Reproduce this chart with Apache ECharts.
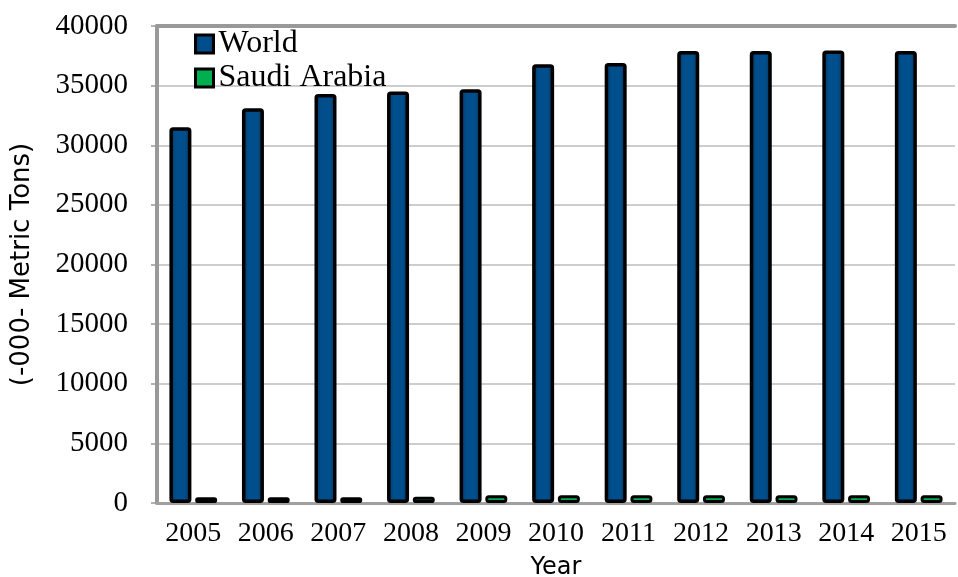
<!DOCTYPE html>
<html>
<head>
<meta charset="utf-8">
<script src="https://cdn.jsdelivr.net/npm/echarts@6/dist/echarts.min.js"></script>
<style>html,body{margin:0;padding:0;background:#fff}#c{width:958px;height:577px}</style>
</head>
<body>
<div id="c"></div>
<script>
var years = ['2005','2006','2007','2008','2009','2010','2011','2012','2013','2014','2015'];
var worldValues = [31500, 33100, 34300, 34500, 34700, 36800, 36900, 37900, 37900, 37950, 37900];
var saudiValues = [480, 480, 480, 520, 650, 650, 650, 650, 650, 650, 650];
var yTicks = [0, 5000, 10000, 15000, 20000, 25000, 30000, 35000, 40000];

var chart = echarts.init(document.getElementById('c'), null, {renderer: 'canvas'});
var serif = 'Liberation Serif';
var blueGrad = new echarts.graphic.LinearGradient(0, 0, 1, 0, [
  {offset: 0, color: '#0b2f55'},
  {offset: 0.3, color: '#004f8c'},
  {offset: 0.7, color: '#004f8c'},
  {offset: 1, color: '#0b2f55'}
]);
var option = {
  animation: false,
  backgroundColor: '#ffffff',
  grid: {left: 157, right: 3, top: 26, bottom: 74, containLabel: false, outerBoundsMode: 'none'},
  legend: {
    orient: 'vertical',
    left: 189,
    top: 23,
    icon: 'rect',
    itemWidth: 18,
    itemHeight: 18,
    itemGap: 2,
    itemStyle: {borderColor: '#000', borderWidth: 3},
    textStyle: {fontFamily: serif, fontSize: 32, lineHeight: 32, color: '#000', padding: [0, 0, 0, 0]},
    data: ['World', 'Saudi Arabia']
  },
  xAxis: [{
    type: 'category',
    data: years,
    position: 'bottom',
    axisLine: {show: true, lineStyle: {color: '#a0a0a0', width: 3}},
    axisTick: {show: false},
    axisLabel: {fontFamily: serif, fontSize: 28, color: '#000', margin: 17, interval: 0, hideOverlap: false},
    name: 'Year',
    nameLocation: 'middle',
    nameGap: 53,
    nameTextStyle: {fontFamily: 'DejaVu Sans', fontSize: 24, color: '#000'}
  }, {
    type: 'category',
    data: years,
    position: 'top',
    axisLine: {show: true, lineStyle: {color: '#999999', width: 4}},
    axisTick: {show: false},
    axisLabel: {show: false}
  }],
  yAxis: {
    type: 'value',
    min: yTicks[0],
    max: yTicks[yTicks.length - 1],
    interval: 5000,
    axisLine: {show: true, lineStyle: {color: '#999999', width: 4}},
    axisTick: {show: true, length: 6, lineStyle: {color: '#999999', width: 1.5}},
    axisLabel: {fontFamily: serif, fontSize: 29, color: '#000', margin: 29, formatter: function (v) { return String(v); }},
    splitLine: {show: true, lineStyle: {color: '#bdbdbd', width: 1.5}},
    name: '(-000- Metric Tons)',
    nameLocation: 'middle',
    nameGap: 122,
    nameTextStyle: {fontFamily: 'DejaVu Sans', fontSize: 26, color: '#000'}
  },
  series: [{
    name: 'World',
    type: 'bar',
    data: worldValues,
    barWidth: 22,
    barGap: '17%',
    itemStyle: {color: blueGrad, borderColor: '#000', borderWidth: 3.5, borderRadius: 2}
  }, {
    name: 'Saudi Arabia',
    type: 'bar',
    data: saudiValues,
    barWidth: 22,
    itemStyle: {color: '#00b050', borderColor: '#000', borderWidth: 3, borderRadius: 2}
  }]
};
chart.setOption(option);
</script>
</body>
</html>
